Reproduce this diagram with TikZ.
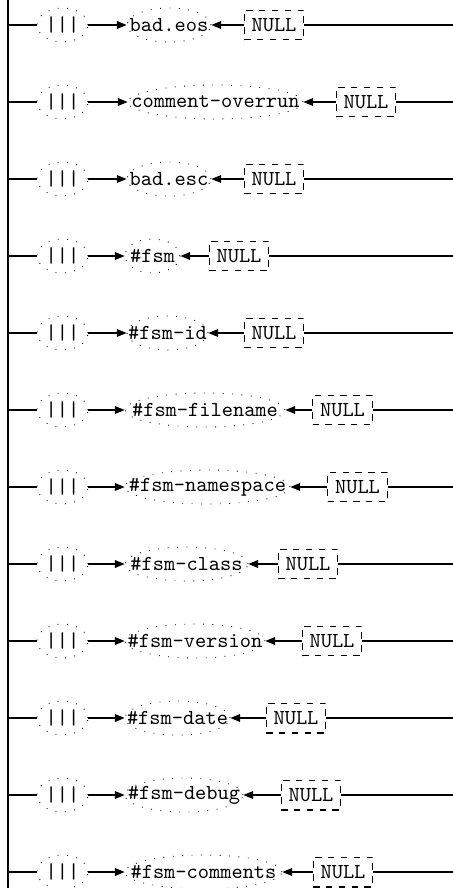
\documentclass[tikz,border=0pt]{standalone}
\usetikzlibrary{shapes.geometric,arrows.meta}
\begin{document}
\begin{tikzpicture}[x=0.468pt,y=-0.468pt,
  every node/.style={font=\ttfamily\fontsize{10}{12}\selectfont},
  conn/.style={line width=0.5pt},
  arr/.style={conn,-{Triangle[length=4.5pt,width=3.6pt]}},
  barnode/.style={ellipse,loosely dotted,draw,inner sep=0pt,minimum width=51*0.468pt,minimum height=34*0.468pt},
  labnode/.style={ellipse,loosely dotted,draw,inner sep=0pt,minimum height=34*0.468pt},
  nullnode/.style={rectangle,dashed,draw,inner xsep=3.5pt,inner ysep=0pt,minimum height=14pt,line width=0.5pt}]
\useasboundingbox (0,0) rectangle (453,888);
\coordinate (vtop) at (8,0);
\coordinate (vbot) at (8,888);
\draw[line width=0.6pt] (vtop) -- (vbot);
\foreach \i/\y/\t/\c/\w/\n in {
  1/25/bad.eos/169/84/274,
  2/102/comment-overrun/215.5/175/366,
  3/179/bad.esc/169/84/274,
  4/256/\#fsm/152.5/55/239,
  5/333/\#fsm-id/167.5/81/274,
  6/410/\#fsm-filename/205/160/342.5,
  7/487/\#fsm-namespace/207.5/165/357.5,
  8/564/\#fsm-class/186.5/123/308,
  9/641/\#fsm-version/195/140/332,
  10/718/\#fsm-date/177.5/105/296,
  11/795/\#fsm-debug/184/118/311,
  12/872/\#fsm-comments/203.5/157/343}{
  \coordinate (v\i) at (8,\y);
  \coordinate (r\i) at (453,\y);
  \node[barnode] (b\i) at (62.5,\y) {|||};
  \node[labnode,minimum width=\w*0.468pt,label={center:\t}] (e\i) at (\c,\y) {};
  \node[nullnode] (n\i) at (\n,\y) {NULL};
  \draw[conn] (v\i) -- (b\i);
  \draw[arr] (b\i) -- (e\i);
  \draw[arr] (n\i) -- (e\i);
  \draw[conn] (n\i) -- (r\i);
}
\end{tikzpicture}
\end{document}
